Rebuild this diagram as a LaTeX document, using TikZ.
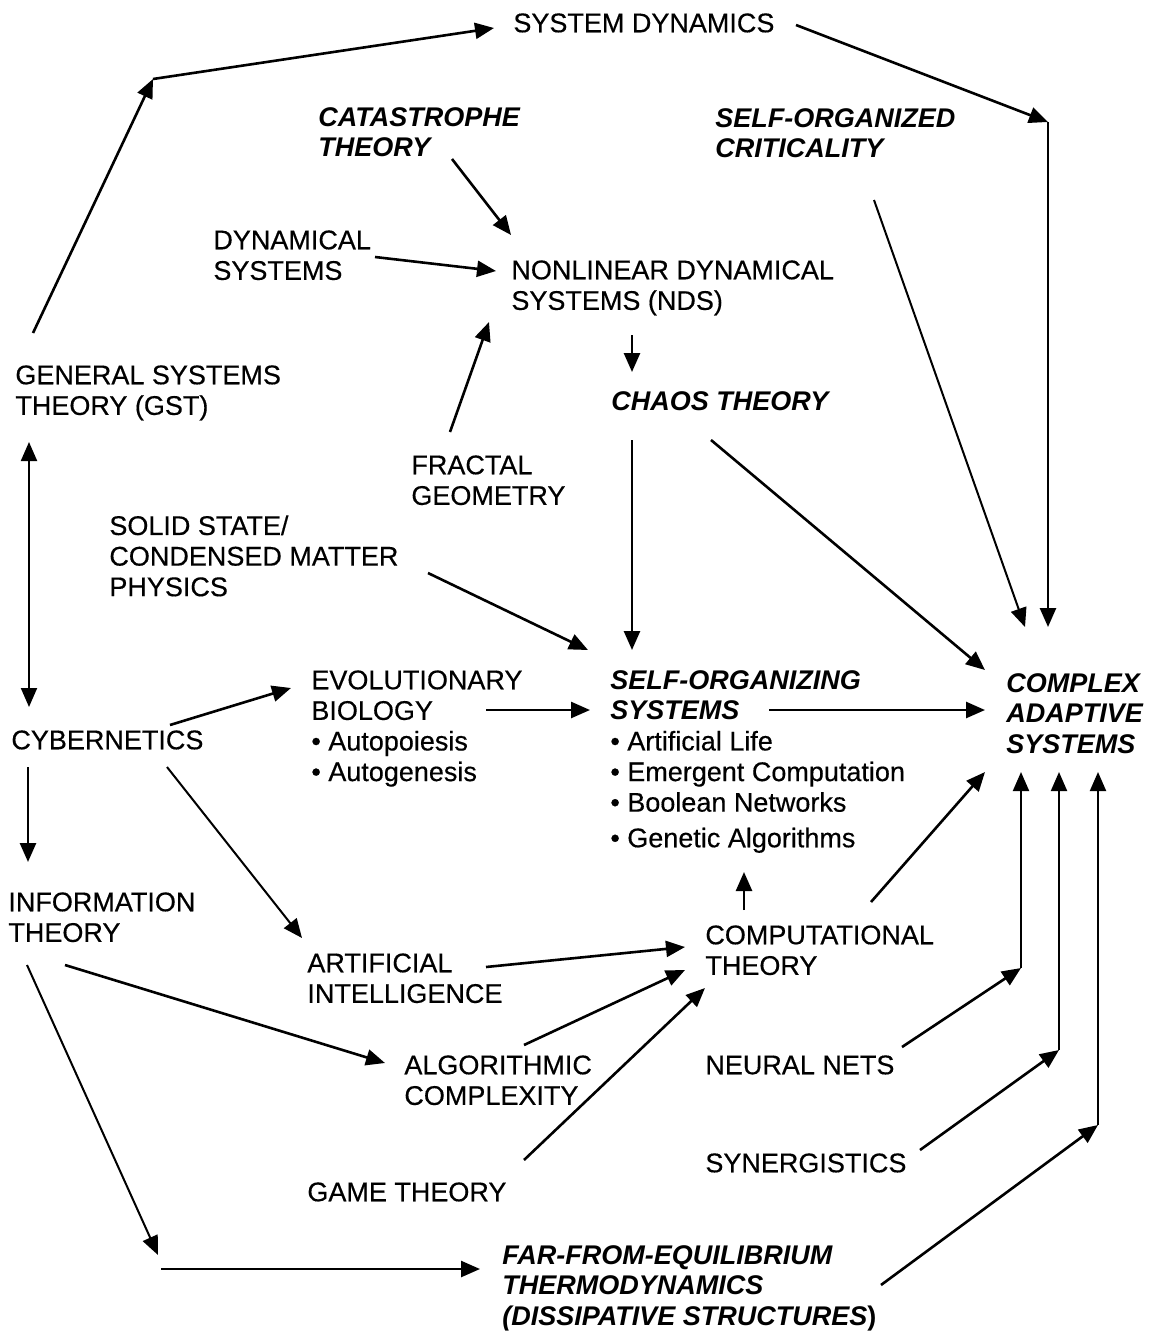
\documentclass[tikz,border=0pt]{standalone}
\usepackage{fontspec}
\setmainfont{Liberation Sans}[UprightFeatures={FakeBold=0.4}]
\usetikzlibrary{arrows.meta}
\usetikzlibrary{calc}

\begin{document}
\begin{tikzpicture}[x=0.5pt,y=0.5pt,yscale=-1,xscale=1,
  lbl/.style={anchor=north west,inner sep=0pt,align=left,font=\fontsize{13.5}{15.3}\selectfont},
  lblit/.style={lbl,font=\fontsize{13.5}{15.3}\selectfont\bfseries\itshape},
  arr/.style={line width=1.3pt,-{Triangle[length=9.5pt,width=8pt]}},
  thinarr/.style={arr,line width=1pt},
  dblarr/.style={thinarr,{Triangle[length=9.5pt,width=8pt]}-{Triangle[length=9.5pt,width=8pt]}}]
\useasboundingbox (0,0) rectangle (1156,1334);

% Text Node
\draw (513,13) node [lbl] (sysdyn) {SYSTEM DYNAMICS};
% Text Node
\draw (318,107) node [lblit] (cata) {CATASTROPHE\\THEORY};
% Text Node
\draw (715,108) node [lblit] (soc) {SELF-ORGANIZED\\CRITICALITY};
% Text Node
\draw (213,230) node [lbl] (dynsys) {DYNAMICAL\\SYSTEMS};
% Text Node
\draw (511,260) node [lbl] (nds) {NONLINEAR DYNAMICAL\\SYSTEMS (NDS)};
% Text Node
\draw (15,365) node [lbl] (gst) {GENERAL SYSTEMS\\THEORY (GST)};
% Text Node
\draw (611,391) node [lblit] (chaos) {CHAOS THEORY};
% Text Node
\draw (411,455) node [lbl] (fractal) {FRACTAL\\GEOMETRY};
% Text Node
\draw (109,515) node [lbl] (solid) {SOLID STATE/\\CONDENSED MATTER\\PHYSICS};
% Text Node
\draw (311,670) node [lbl] (evo) {EVOLUTIONARY\\BIOLOGY\\• Autopoiesis\\• Autogenesis};
% Text Node
\draw (610,670) node [lbl] (sos) {{\bfseries\itshape SELF-ORGANIZING}\\{\bfseries\itshape SYSTEMS}\\• Artificial Life\\• Emergent Computation\\• Boolean Networks\\[2.5pt]• Genetic Algorithms};
% Text Node
\draw (1006,673) node [lblit] (cas) {COMPLEX\\ADAPTIVE\\SYSTEMS};
% Text Node
\draw (11,730) node [lbl] (cyb) {CYBERNETICS};
% Text Node
\draw (8,892) node [lbl] (info) {INFORMATION\\THEORY};
% Text Node
\draw (307,953) node [lbl] (ai) {ARTIFICIAL\\INTELLIGENCE};
% Text Node
\draw (705,925) node [lbl] (comp) {COMPUTATIONAL\\THEORY};
% Text Node
\draw (404,1055) node [lbl] (alg) {ALGORITHMIC\\COMPLEXITY};
% Text Node
\draw (705,1055) node [lbl] (neural) {NEURAL NETS};
% Text Node
\draw (705,1153) node [lbl] (syn) {SYNERGISTICS};
% Text Node
\draw (307,1182) node [lbl] (game) {GAME THEORY};
% Text Node
\draw (502,1245) node [lblit] (far) {FAR-FROM-EQUILIBRIUM\\THERMODYNAMICS\\(DISSIPATIVE STRUCTURES{\upshape)}};

% bends
\coordinate (c1) at (153,79);
\coordinate (c2) at (1048,122);
\coordinate (c3) at (158,1255);
\coordinate (c4) at (161,1269);
\coordinate (c5) at (1021,968);
\coordinate (c6) at (1059,1050);
\coordinate (c7) at (1098,1125);

%Straight Lines
\draw [arr] ($(gst.north west)+(18,-32)$) -- (c1);
\draw [arr] (c1) -- ($(sysdyn.north west)+(-19,15)$);
%Straight Lines
\draw [arr] ($(sysdyn.north west)+(283,12)$) -- (c2);
\draw [arr] (c2) -- ($(cas.north west)+(42,-46)$);
%Straight Lines
\draw [arr] ($(cata.north west)+(134,52)$) -- ($(nds.north west)+(0,-25)$);
\draw [thinarr] ($(soc.north west)+(159,92)$) -- ($(cas.north west)+(19,-46)$);
\draw [arr] ($(dynsys.north west)+(162,27)$) -- ($(nds.north west)+(-15,11)$);
\draw [arr] ($(fractal.north west)+(39,-23)$) -- ($(nds.north west)+(-22,62)$);
\draw [arr] ($(nds.north west)+(121,75)$) -- ($(chaos.north west)+(21,-19)$);
%Straight Lines
\draw [arr] ($(chaos.north west)+(21,49)$) -- ($(sos.north west)+(22,-20)$);
\draw [arr] ($(chaos.north west)+(100,49)$) -- ($(cas.north west)+(-21,-3)$);
\draw [arr] ($(solid.north west)+(319,58)$) -- ($(sos.north west)+(-22,-20)$);
%Straight Lines
\draw [dblarr] ($(gst.north west)+(14,77)$) -- ($(cyb.north west)+(18,-23)$);
\draw [arr] ($(cyb.north west)+(159,-5)$) -- ($(evo.north west)+(-20,18)$);
\draw [arr] ($(evo.north west)+(175,40)$) -- ($(sos.north west)+(-20,40)$);
\draw [arr] ($(sos.north west)+(159,40)$) -- ($(cas.north west)+(-21,37)$);
\draw [arr] ($(cyb.north west)+(17,37)$) -- ($(info.north west)+(20,-30)$);
\draw [thinarr] ($(cyb.north west)+(156,37)$) -- ($(ai.north west)+(-5,-15)$);
%Straight Lines
\draw [arr] ($(info.north west)+(57,73)$) -- ($(alg.north west)+(-19,8)$);
\draw [thinarr] ($(info.north west)+(19,73)$) -- (c3);
\draw [arr] (c4) -- ($(far.north west)+(-22,24)$);
%Straight Lines
\draw [arr] ($(ai.north west)+(179,14)$) -- ($(comp.north west)+(-20,22)$);
\draw [arr] ($(alg.north west)+(120,-10)$) -- ($(comp.north west)+(-20,45)$);
\draw [arr] ($(game.north west)+(217,-22)$) -- ($(comp.north west)+(0,63)$);
\draw [arr] ($(comp.north west)+(39,-15)$) -- ($(sos.north west)+(134,202)$);
\draw [arr] ($(comp.north west)+(166,-23)$) -- ($(cas.north west)+(-21,99)$);
%Straight Lines
\draw [arr] ($(neural.north west)+(197,-8)$) -- (c5);
\draw [thinarr] (c5) -- ($(cas.north west)+(15,99)$);
\draw [arr] ($(syn.north west)+(215,-3)$) -- (c6);
\draw [thinarr] (c6) -- ($(cas.north west)+(53,99)$);
\draw [arr] ($(far.north west)+(379,40)$) -- (c7);
\draw [thinarr] (c7) -- ($(cas.north west)+(92,99)$);

\end{tikzpicture}
\end{document}
